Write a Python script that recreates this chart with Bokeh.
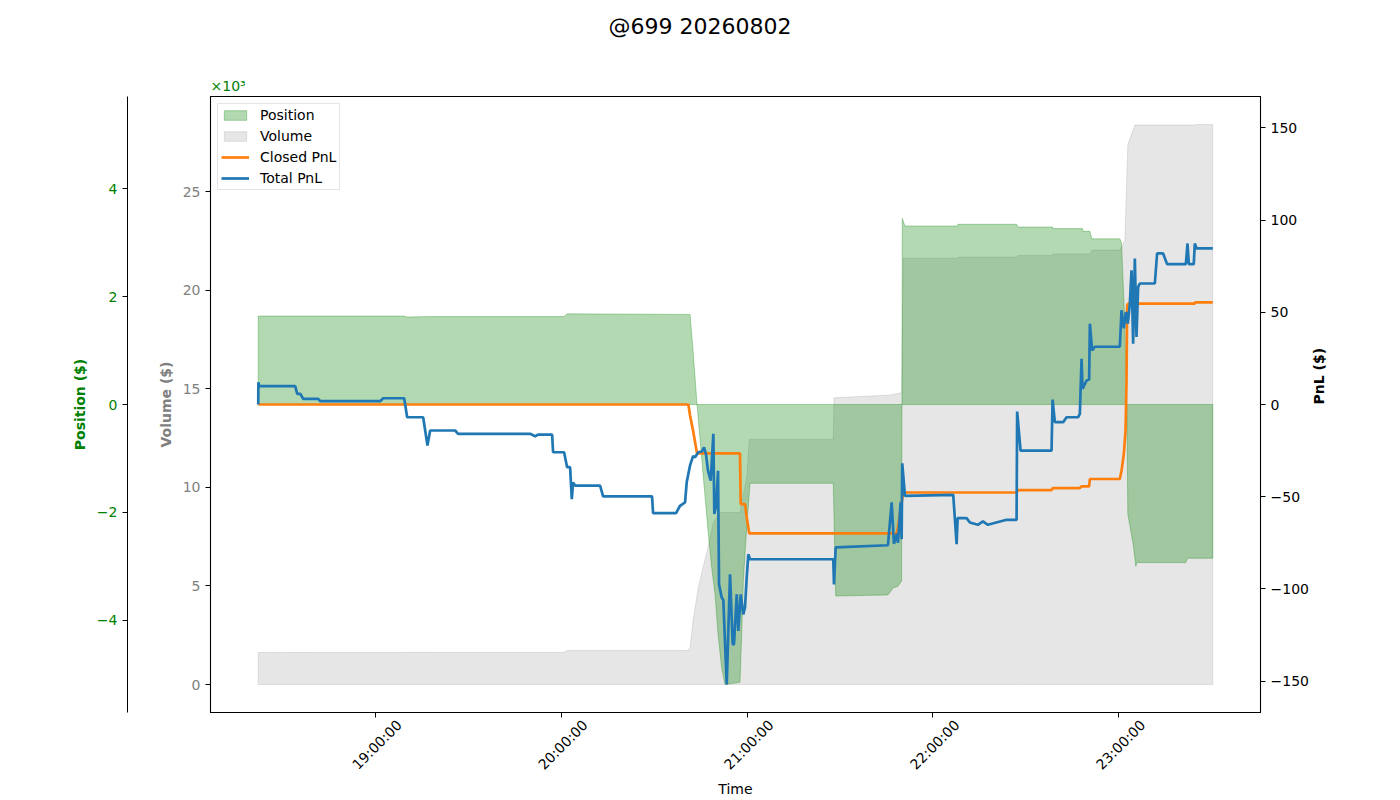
import math
import numpy as np
import pandas as pd
from bokeh.plotting import figure
from bokeh.models import (Range1d, LinearAxis, SingleIntervalTicker, FixedTicker,
                          CustomJSTickFormatter, Legend, LegendItem, Title)
from bokeh.embed import file_html
from bokeh.resources import INLINE

TITLE = "@699 20260802"
DAY = "2026-08-02"

x_tick_labels = ["19:00:00", "20:00:00", "21:00:00", "22:00:00", "23:00:00"]

pos_time = ["18:22:15", "19:09:21", "19:10:19", "19:17:44", "20:00:58", "20:01:56",
            "20:41:37", "20:42:35", "20:43:14", "20:43:52", "20:45:48", "20:47:25",
            "20:48:37", "20:49:41", "20:50:39", "20:51:50", "20:52:54", "20:57:44",
            "20:58:17", "20:58:48", "20:59:41", "21:00:58", "21:27:50", "21:28:37",
            "21:45:29", "21:47:12", "21:48:43", "21:49:54", "21:50:06", "21:50:58",
            "22:07:58", "22:08:04", "22:27:00", "22:27:25", "22:38:37", "22:38:43",
            "22:48:17", "22:48:23", "22:50:39", "22:51:17", "23:00:19", "23:00:52",
            "23:01:56", "23:02:35", "23:02:54", "23:04:37", "23:05:29", "23:05:48",
            "23:21:37", "23:22:10", "23:30:19"]
pos_usd = [1640, 1640, 1620, 1630, 1630, 1680,
           1670, 1000, 500, 0, -1280, -2340,
           -3030, -3520, -4260, -4890, -5190, -5150,
           -4260, -3270, -2470, -1460, -1460, -3550,
           -3530, -3400, -3370, -3270, 3450, 3310,
           3310, 3340, 3340, 3290, 3290, 3260,
           3260, 3210, 3210, 3070, 3070, 3000,
           1500, 0, -2030, -2590, -3000, -2930,
           -2930, -2850, -2850]

vol_time = ["18:22:15", "19:17:44", "20:00:58", "20:01:56", "20:41:04", "20:41:37",
            "20:42:35", "20:44:17", "20:45:48", "20:47:25", "20:49:08", "20:51:17",
            "20:57:44", "20:58:48", "20:59:54", "21:00:44", "21:27:50", "21:28:04",
            "21:46:08", "21:49:54", "21:50:25", "22:07:58", "22:08:04", "22:27:00",
            "22:27:25", "22:38:37", "22:38:43", "22:50:39", "22:51:17", "23:00:19",
            "23:01:17", "23:01:56", "23:02:54", "23:05:10", "23:24:31", "23:24:40",
            "23:30:19"]
vol_usd = [1620, 1630, 1630, 1720, 1720, 1890,
           3240, 4920, 5940, 6950, 8200, 8720,
           8720, 9650, 10490, 12430, 12430, 14540,
           14680, 14800, 21620, 21620, 21670, 21670,
           21760, 21760, 21830, 21830, 22030, 22030,
           22300, 22500, 27390, 28370, 28370, 28400,
           28400]

closed_time = ["18:22:15", "20:41:04", "20:41:37", "20:42:35", "20:43:52", "20:57:44",
               "20:57:58", "20:59:21", "20:59:54", "21:00:44", "21:48:23", "21:50:25",
               "22:27:00", "22:27:25", "22:38:17", "22:38:43", "22:47:25", "22:47:58",
               "22:50:25", "22:50:39", "23:00:19", "23:00:52", "23:01:37", "23:02:10",
               "23:02:29", "23:02:41", "23:03:00", "23:24:31", "23:24:40", "23:30:19"]
closed_pnl = [0.0, 0.0, -6.0, -14.1, -26.5, -26.5,
              -54.0, -54.0, -61.2, -69.9, -69.9, -47.7,
              -47.7, -46.4, -46.4, -45.3, -45.3, -44.4,
              -44.4, -40.4, -40.4, -35.9, -26.6, -14.1,
              13.0, 53.8, 54.7, 54.7, 55.4, 55.4]

total_time = ["18:22:15", "18:22:18", "18:22:30", "18:34:11", "18:34:50", "18:35:48",
              "18:36:46", "18:41:37", "18:42:15", "19:01:37", "19:02:35", "19:09:21",
              "19:10:19", "19:15:29", "19:16:08", "19:16:52", "19:17:44", "19:25:48",
              "19:26:46", "19:50:00", "19:51:37", "19:52:35", "19:57:06", "19:57:25",
              "20:00:58", "20:01:56", "20:02:54", "20:03:27", "20:03:52", "20:04:31",
              "20:12:35", "20:13:33", "20:29:21", "20:29:41", "20:37:06", "20:38:23",
              "20:40:00", "20:40:33", "20:41:37", "20:42:35", "20:43:14", "20:44:17",
              "20:45:23", "20:46:08", "20:46:46", "20:47:25", "20:48:17", "20:49:08",
              "20:49:27", "20:50:00", "20:50:39", "20:50:58", "20:51:50", "20:52:21",
              "20:53:27", "20:54:31", "20:55:23", "20:55:48", "20:56:41", "20:57:12",
              "20:57:58", "20:58:48", "20:59:21", "20:59:54", "21:00:25", "21:00:58",
              "21:27:50", "21:28:04", "21:28:37", "21:45:29", "21:46:41", "21:47:25",
              "21:48:23", "21:48:43", "21:49:35", "21:49:54", "21:50:06", "21:50:58",
              "22:06:33", "22:07:39", "22:07:58", "22:10:52", "22:11:56", "22:14:31",
              "22:16:08", "22:17:44", "22:23:46", "22:27:00", "22:27:11", "22:28:17",
              "22:38:17", "22:38:37", "22:39:21", "22:42:02", "22:43:08", "22:46:52",
              "22:47:25", "22:47:58", "22:48:17", "22:49:35", "22:50:25", "22:50:39",
              "22:51:23", "22:52:15", "23:00:19", "23:00:52", "23:01:37", "23:02:16",
              "23:02:54", "23:03:33", "23:04:06", "23:04:37", "23:05:10", "23:05:42",
              "23:06:14", "23:06:46", "23:11:37", "23:12:21", "23:14:17", "23:15:35",
              "23:21:37", "23:22:10", "23:22:35", "23:24:11", "23:24:31", "23:25:04",
              "23:30:19"]
total_pnl = [0.0, 12.1, 10.0, 10.0, 5.8, 5.8,
             3.1, 3.1, 1.8, 1.8, 3.4, 3.4,
             -6.9, -6.9, -14.1, -22.3, -14.1, -14.1,
             -15.9, -15.9, -17.2, -16.3, -16.3, -25.9,
             -25.9, -34.0, -34.0, -51.3, -42.2, -44.0,
             -44.0, -49.8, -49.8, -58.9, -58.9, -54.9,
             -53.1, -42.0, -33.0, -28.0, -28.6, -25.9,
             -25.5, -23.2, -27.0, -36.0, -41.3, -15.9,
             -59.4, -55.0, -35.9, -97.5, -104.7, -106.0,
             -151.8, -92.0, -130.0, -130.0, -102.9, -122.8,
             -102.9, -113.8, -110.0, -93.8, -81.2, -83.9,
             -83.9, -97.5, -77.5, -76.3, -53.1, -75.5,
             -70.0, -75.0, -53.1, -73.0, -31.9, -49.5,
             -49.0, -75.7, -61.6, -61.6, -64.0, -65.2,
             -63.4, -65.2, -62.5, -62.5, -3.8, -25.0,
             -25.0, 2.7, -9.6, -9.6, -6.9, -6.9,
             -5.1, 24.8, 8.5, 13.0, 13.5, 43.8,
             29.3, 31.3, 31.3, 51.1, 41.3, 50.2,
             43.8, 54.7, 72.8, 33.0, 79.2, 36.6,
             63.8, 65.6, 65.6, 81.9, 81.9, 76.1,
             76.1, 87.3, 76.1, 76.1, 87.3, 84.6,
             84.6]


def to_ms(times):
    idx = pd.to_datetime([f"{DAY} {t}" for t in times])
    return idx.asi8 / 1e6


pos_x = to_ms(pos_time)
vol_x = to_ms(vol_time)
closed_x = to_ms(closed_time)
total_x = to_ms(total_time)
tick_x = to_ms(x_tick_labels)

all_x = np.concatenate([pos_x, vol_x, closed_x, total_x])
x0, x1 = all_x.min(), all_x.max()
span = x1 - x0
xr0, xr1 = x0 - 0.05 * span, x1 + 0.05 * span

pnl_lim = max(np.abs(closed_pnl).max(), np.abs(total_pnl).max()) * 1.1
pos_lim = np.abs(pos_usd).max() * 1.1
vol_max = max(vol_usd)

FONT = "DejaVu Sans"
FS = "14px"
FRAME_W, FRAME_H = 1050, 616

p = figure(frame_width=FRAME_W, frame_height=FRAME_H, x_axis_type="datetime",
           y_axis_location="right",
           x_range=Range1d(xr0, xr1),
           y_range=Range1d(-pnl_lim, pnl_lim),
           output_backend="svg", toolbar_location=None,
           min_border_left=210, min_border_right=124,
           min_border_top=96, min_border_bottom=72)
p.extra_y_ranges = {"vol": Range1d(-0.05 * vol_max, 1.05 * vol_max),
                    "pos": Range1d(-pos_lim, pos_lim)}

p.xgrid.visible = False
p.ygrid.visible = False
p.outline_line_color = "black"
p.outline_line_width = 1.1
p.background_fill_color = "white"
p.border_fill_color = "white"

thousands = CustomJSTickFormatter(code="""
const v = Math.round(tick / 1000 * 100) / 100;
return (v < 0 ? "\u2212" : "") + Math.abs(v).toString();
""")
plain = CustomJSTickFormatter(code="""
const v = Math.round(tick * 100) / 100;
return (v < 0 ? "\u2212" : "") + Math.abs(v).toString();
""")


def style(ax, color, label, bold=True):
    ax.axis_label = label
    ax.axis_label_text_font = FONT
    ax.axis_label_text_font_size = FS
    ax.axis_label_text_font_style = "bold" if bold else "normal"
    ax.axis_label_text_color = color
    ax.major_label_text_font = FONT
    ax.major_label_text_font_size = FS
    ax.major_label_text_color = color
    ax.major_tick_line_color = "black"
    ax.major_tick_out = 5
    ax.major_tick_in = 0
    ax.minor_tick_line_color = None
    ax.major_label_standoff = 5
    ax.axis_label_standoff = 6
    ax.axis_line_color = "black"


def spacer_axis(size, tick, **kw):
    # blank axis used only to reserve room between the stacked side items
    return LinearAxis(ticker=FixedTicker(ticks=[tick]), major_tick_out=size,
                      major_tick_in=0, axis_line_color=None,
                      major_tick_line_color="white", minor_tick_line_color=None,
                      formatter=CustomJSTickFormatter(code="return '';"),
                      major_label_text_font_size="0px",
                      major_label_text_color=None, major_label_standoff=0, **kw)


# right PnL axis (default)
pnl_axis = p.yaxis[0]
pnl_axis.ticker = SingleIntervalTicker(interval=50, num_minor_ticks=0)
pnl_axis.formatter = plain
style(pnl_axis, "black", "PnL ($)")
pnl_axis.axis_label_standoff = 7
if "axis_label_orientation" in pnl_axis.properties():
    pnl_axis.axis_label_orientation = math.pi / 2

# x axis: ticks on the main axis, centred rotated labels on an outer axis
xa = p.xaxis[0]
xa.ticker = FixedTicker(ticks=list(tick_x))
style(xa, "black", None)
xa.axis_label = None
xa.major_label_text_color = None
xa.major_label_standoff = 0

label_shift = 24 * (xr1 - xr0) / FRAME_W
xlab = LinearAxis(ticker=FixedTicker(ticks=list(tick_x + label_shift)),
                  formatter=CustomJSTickFormatter(args=dict(labels=x_tick_labels),
                                                  code="return labels[index];"))
style(xlab, "black", "Time", bold=False)
xlab.major_tick_out = 0
xlab.major_tick_line_color = None
xlab.axis_line_color = None
xlab.major_label_standoff = 5
xlab.axis_label_standoff = 0
xlab.major_label_orientation = math.pi / 4
p.add_layout(xlab, "below")

# left axes: volume (inner), spacer, position (outer)
vol_axis = LinearAxis(y_range_name="vol",
                      ticker=SingleIntervalTicker(interval=5000, num_minor_ticks=0),
                      formatter=thousands)
style(vol_axis, "#808080", "Volume ($)")
p.add_layout(vol_axis, "left")

p.add_layout(spacer_axis(27, 0, y_range_name="vol"), "left")

pos_axis = LinearAxis(y_range_name="pos",
                      ticker=SingleIntervalTicker(interval=2000, num_minor_ticks=0),
                      formatter=thousands)
style(pos_axis, "#008000", "Position ($)")
p.add_layout(pos_axis, "left")

# fills
vol_r = p.patch(x=np.concatenate([vol_x, vol_x[::-1]]),
                y=np.concatenate([vol_usd, np.zeros(len(vol_usd))]),
                y_range_name="vol", fill_color="gray", fill_alpha=0.2,
                line_color="gray", line_alpha=0.2, line_width=1)
pos_r = p.patch(x=np.concatenate([pos_x, pos_x[::-1]]),
                y=np.concatenate([pos_usd, np.zeros(len(pos_usd))]),
                y_range_name="pos", fill_color="green", fill_alpha=0.3,
                line_color="green", line_alpha=0.3, line_width=1)

closed_r = p.line(closed_x, closed_pnl, line_color="#ff7f0e", line_width=2.7)
total_r = p.line(total_x, total_pnl, line_color="#1f77b4", line_width=2.7)

legend = Legend(items=[LegendItem(label="Position", renderers=[pos_r]),
                       LegendItem(label="Volume", renderers=[vol_r]),
                       LegendItem(label="Closed PnL", renderers=[closed_r]),
                       LegendItem(label="Total PnL", renderers=[total_r])],
                location="top_left")
legend.label_text_font = FONT
legend.label_text_font_size = FS
legend.label_text_color = "black"
legend.border_line_color = "#cccccc"
legend.background_fill_alpha = 0.8
legend.padding = 3
legend.spacing = 5
legend.margin = 7
legend.glyph_width = 28
legend.glyph_height = 12
legend.label_height = 16
legend.label_standoff = 11
p.add_layout(legend)

# above: offset text (inner), spacer, then the main title (outermost)
offset_title = Title(text="×10³", align="left", offset=0, text_font=FONT,
                     text_font_size=FS, text_font_style="normal",
                     text_color="#008000", standoff=6)
p.add_layout(offset_title, "above")
p.add_layout(spacer_axis(34, x0), "above")

p.title.text = TITLE
p.title.align = "left"
p.title.offset = 398
p.title.text_font = FONT
p.title.text_font_size = "22px"
p.title.text_font_style = "normal"
p.title.text_color = "black"
p.title.standoff = 0

with open("out.html", "w") as f:
    f.write(file_html(p, INLINE))
